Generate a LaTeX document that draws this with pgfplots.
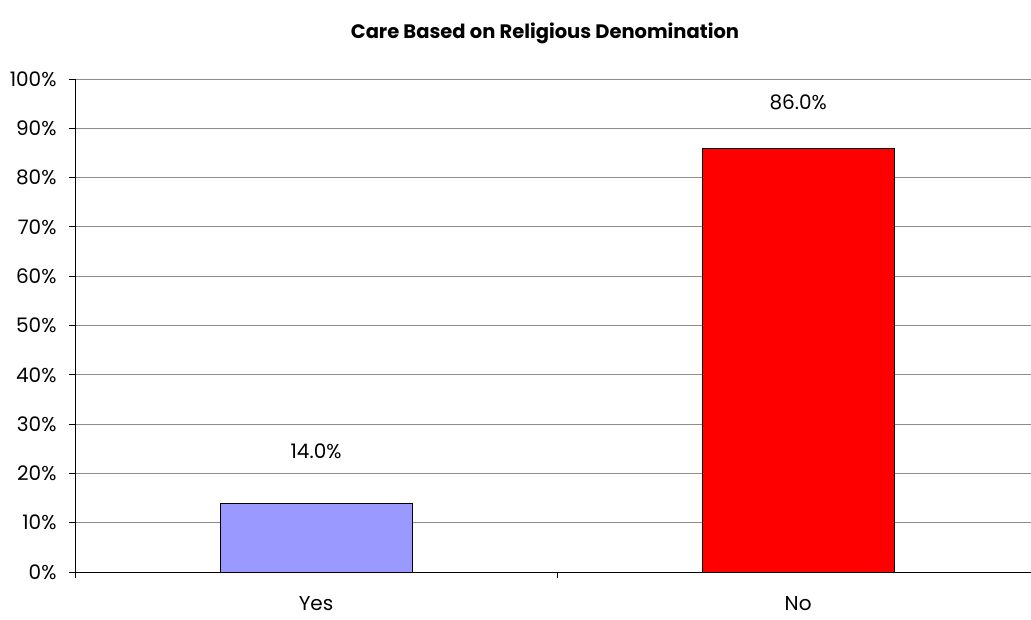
\documentclass[border=0pt]{standalone}
\usepackage{fontspec}
\setmainfont{Poppins}
\usepackage{pgfplots}
\pgfplotsset{compat=1.18}
\definecolor{yesbar}{HTML}{9999FF}
\begin{document}
\begin{tikzpicture}[x=1pt,y=1pt]
\path[use as bounding box] (0,0) rectangle (1031,620);
\begin{axis}[
  at={(75pt,48pt)}, anchor=south west,
  scale only axis, width=956pt, height=493pt,
  xmin=-0.5, xmax=1.483, ymin=0, ymax=1,
  axis x line*=bottom, axis y line*=left, axis line style={-, black},
  xtick={-0.5,0.5}, xticklabels={},
  extra x ticks={0,1}, extra x tick labels={Yes,No},
  extra x tick style={major tick length=0pt, grid=none},
  ytick={0,0.1,...,1.0},
  yticklabels={0\%,10\%,20\%,30\%,40\%,50\%,60\%,70\%,80\%,90\%,100\%},
  ymajorgrids, grid style={gray!90, line width=0.8pt},
  tick align=outside, major tick length=6pt,
  tick style={black, line width=0.8pt},
  ticklabel style={font=\fontsize{20}{23}\selectfont},
  yticklabel style={xshift=-9pt},
  xticklabel style={yshift=-21pt},
  /pgf/number format/assume math mode=true,
  ybar, bar width=192pt, bar shift=0pt,
  nodes near coords={\pgfmathprintnumber[fixed,fixed zerofill,precision=1]{\pgfplotspointmeta}\%},
  point meta=explicit,
]
\addplot[fill=yesbar, draw=black, line width=0.8pt,
  nodes near coords style={font=\fontsize{20}{23}\selectfont, yshift=41pt}] coordinates {(0,0.14) [14.0]};
\addplot[fill=red, draw=black, line width=0.8pt,
  nodes near coords style={font=\fontsize{20}{23}\selectfont, yshift=34pt}] coordinates {(1,0.86) [86.0]};
\end{axis}
\node[font=\bfseries\fontsize{19.5}{22}\selectfont] at (545,587) {Care Based on Religious Denomination};
\end{tikzpicture}
\end{document}
